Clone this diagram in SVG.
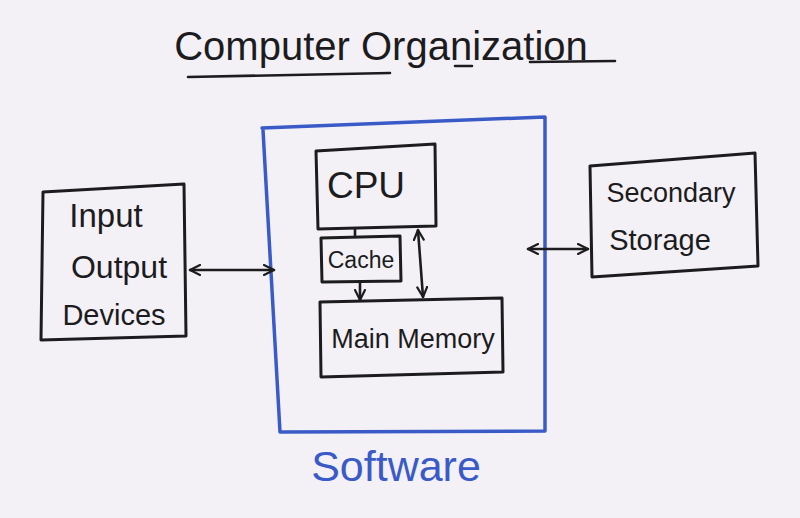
<svg xmlns="http://www.w3.org/2000/svg" width="800" height="518" viewBox="0 0 800 518">
<defs>
<style>
.bx{fill:none;stroke:#1c1c1e;stroke-width:3;stroke-linejoin:round;stroke-linecap:round}
.sw{fill:none;stroke:#3a5bc7;stroke-width:3.5;stroke-linejoin:round;stroke-linecap:round}
.ln{fill:none;stroke:#1c1c1e;stroke-width:2.6;stroke-linecap:round}
.t{font-family:"Liberation Sans",Arial,sans-serif;fill:#1c1c1e;text-anchor:middle}
</style>
<marker id="ah" viewBox="0 0 12 12" refX="11" refY="6" markerWidth="12" markerHeight="12" markerUnits="userSpaceOnUse" orient="auto-start-reverse">
<path d="M1,1 L11,6 L1,11" fill="none" stroke="#1c1c1e" stroke-width="2.2" stroke-linecap="round" stroke-linejoin="round"/>
</marker>
</defs>
<rect width="800" height="518" fill="#f4f1f6"/>
<g id="title">
<text class="t" x="381" y="60" font-size="40">Computer Organization</text>
<path class="ln" d="M188,77 L390,73 M455,66 L472,66 M530,62 L615,61"/>
</g>
<g id="software">
<path class="sw" d="M262,128 L545,117 L545,431 L280,432 L263,130"/>
<text class="t" x="396" y="481" font-size="43" style="fill:#3a5bc7">Software</text>
</g>
<g id="cpu">
<path class="bx" d="M316,151 L435,144 L436,226 L318,229 Z"/>
<text class="t" x="366" y="198" font-size="37">CPU</text>
</g>
<g id="cache">
<path class="bx" d="M321,238 L400,236 L401,281 L322,282 Z"/>
<text class="t" x="361" y="268" font-size="23">Cache</text>
</g>
<g id="main-memory">
<path class="bx" d="M320,302 L502,298 L503,372 L321,377 Z"/>
<text class="t" x="413" y="348" font-size="27">Main Memory</text>
</g>
<g id="io-devices">
<path class="bx" d="M43,192 L184,184 L186,336 L41,340 Z"/>
<text class="t" x="106" y="227" font-size="33">Input</text>
<text class="t" x="119" y="278" font-size="32">Output</text>
<text class="t" x="114" y="325" font-size="29">Devices</text>
</g>
<g id="secondary-storage">
<path class="bx" d="M590,166 L755,153 L758,266 L592,277 Z"/>
<text class="t" x="671" y="202" font-size="27">Secondary</text>
<text class="t" x="660" y="250" font-size="29">Storage</text>
</g>
<g id="connectors">
<path class="ln" d="M190,270 L274,270" marker-start="url(#ah)" marker-end="url(#ah)"/>
<path class="ln" d="M528,249 L588,249" marker-start="url(#ah)" marker-end="url(#ah)"/>
<path class="ln" d="M355,229 L355,237"/>
<path class="ln" d="M360,283 L360,300" marker-end="url(#ah)"/>
<path class="ln" d="M418,230 L423,297" marker-start="url(#ah)" marker-end="url(#ah)"/>
</g>
</svg>
